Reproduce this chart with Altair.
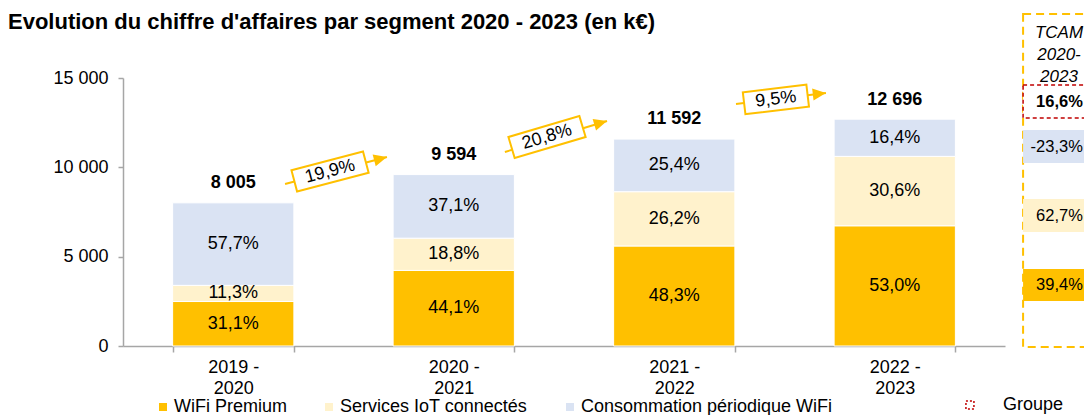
import altair as alt
import pandas as pd

# ---------------- values ----------------
periods = ["2019 - 2020", "2020 - 2021", "2021 - 2022", "2022 - 2023"]
totals = [8005, 9594, 11592, 12696]
segments = ["WiFi Premium", "Services IoT connectés", "Consommation périodique WiFi"]
share_wifi = [31.1, 44.1, 48.3, 53.0]
share_iot = [11.3, 18.8, 26.2, 30.6]
share_conso = [57.7, 37.1, 25.4, 16.4]
growth_labels = ["19,9%", "20,8%", "9,5%"]
tcam_labels = ["39,4%", "62,7%", "-23,3%"]          # WiFi, IoT, Conso
tcam_group = "16,6%"
tcam_header = ["TCAM", "2020-", "2023"]
title_text = "Evolution du chiffre d'affaires par segment 2020 - 2023 (en k€)"
y_ticks = [0, 5000, 10000, 15000]

# ---------------- styles / layout ----------------
FONT = "Liberation Sans"
GOLD = "#FFC000"
RED = "#C00000"
colors = ["#FFC000", "#FFF2CC", "#DAE3F3"]
GREY = "#A6A6A6"
W, H = 882, 268
FS = 18
FS_PANEL = 16.5

# annotation positions in chart units (x: 0..4 across the bands, y: k€)
arrow_x0 = [0.735, 1.732, 2.780]
arrow_y0 = [9067, 10858, 13545]
arrow_x1 = [1.197, 2.195, 3.188]
arrow_y1 = [10578, 12593, 14160]
box_x = [0.939, 1.923, 2.961]
box_y = [9767, 11698, 13800]
arrow_angle = [14.8, 16.5, 6.8]
box_w = [74, 74, 64]
box_h = 22

panel_x0, panel_x1 = 4.082, 4.8
panel_y0, panel_y1 = 18582, -56
panel_head_x = 4.245
panel_val_x = 4.353
header_y = [17519, 16287, 15056]
group_box_y = (14608, 12761)
group_text_y = 13657
seg_box_y0 = [4310, 8228, 12090]
seg_box_y1 = [2519, 6381, 10243]
seg_text_y = [3414, 7276, 11138]
groupe_sym = (3.841, -3300)
groupe_text_x = 3.991

# ---------------- tables ----------------
rows = []
for i, p in enumerate(periods):
    for j, (seg, sh) in enumerate(zip(segments, [share_wifi[i], share_iot[i], share_conso[i]])):
        rows.append({
            "period": p, "segment": seg, "ord": j,
            "value": totals[i] * sh / 100.0,
            "label": f"{sh:.1f}".replace(".", ",") + "%",
        })
df = pd.DataFrame(rows)
df_tot = pd.DataFrame({
    "period": periods, "total": totals,
    "label": [f"{t:,}".replace(",", " ") for t in totals],
})

df_arrow = pd.DataFrame({
    "x0": arrow_x0, "y0": arrow_y0, "x1": arrow_x1, "y1": arrow_y1,
    "bx": box_x, "by": box_y, "label": growth_labels,
    "ang": [360 - a for a in arrow_angle],
    "path": [f"M-1,{-box_h / w:.4f}L1,{-box_h / w:.4f}L1,{box_h / w:.4f}L-1,{box_h / w:.4f}Z" for w in box_w],
    "sz": [w * w for w in box_w],
})

xband = alt.Scale(domain=periods, paddingInner=0.45, paddingOuter=0.225)
yscale = alt.Scale(domain=[0, 15000], nice=False, zero=False)
pscale = alt.Scale(domain=[0, 4], nice=False, zero=False)
cscale = alt.Scale(domain=segments, range=colors)

x_axis = alt.Axis(
    title=None, labelAngle=0, labelFont=FONT, labelFontSize=FS, labelColor="#000",
    labelExpr="[substring(datum.label, 0, 6), substring(datum.label, 7)]",
    labelLineHeight=21, labelPadding=6, tickBand="extent", tickSize=6,
    domainColor=GREY, tickColor=GREY, domainWidth=1.5, tickWidth=1.5,
)
y_axis = alt.Axis(
    title=None, values=y_ticks, grid=False, labelFont=FONT, labelFontSize=FS,
    labelColor="#000", labelPadding=10, tickSize=5,
    labelExpr="datum.value == 0 ? '0' : format(datum.value / 1000, 'd') + ' 000'",
    domainColor=GREY, tickColor=GREY, domainWidth=1.5, tickWidth=1.5,
)


def Xb(field):
    return alt.X(field, sort=periods, scale=xband, axis=x_axis)


def Xp(field):
    return alt.X(field, scale=pscale, axis=None)


def Yv(field, **kw):
    return alt.Y(field, scale=yscale, axis=y_axis, **kw)


bars = alt.Chart(df).mark_bar(stroke="white", strokeWidth=1).encode(
    x=Xb("period:N"),
    y=Yv("value:Q", stack="zero"),
    color=alt.Color("segment:N", scale=cscale, legend=alt.Legend(
        title=None, orient="none", legendX=31, legendY=320, direction="horizontal",
        symbolType="square", symbolSize=64, symbolStrokeWidth=0, labelFont=FONT,
        labelFontSize=FS, labelColor="#000", labelOffset=2, columnPadding=33,
        labelLimit=400, padding=0,
    )),
    order=alt.Order("ord:Q", sort="ascending"),
)

seg_text = alt.Chart(df).transform_stack(
    stack="value", groupby=["period"], sort=[alt.SortField("ord", order="ascending")],
    as_=["v0", "v1"],
).transform_calculate(mid="(datum.v0 + datum.v1) / 2").mark_text(
    font=FONT, fontSize=FS, color="#000", baseline="middle",
).encode(x=Xb("period:N"), y=Yv("mid:Q"), text="label:N")

tot_text = alt.Chart(df_tot).mark_text(
    font=FONT, fontSize=FS, fontWeight="bold", color="#000", baseline="middle", dy=-19.5,
).encode(x=Xb("period:N"), y=Yv("total:Q"), text="label:N")

band_layer = alt.layer(bars, seg_text, tot_text)

# growth arrows
arrow_line = alt.Chart(df_arrow).mark_rule(color=GOLD, strokeWidth=2).encode(
    x=Xp("x0:Q"), x2="x1:Q", y=Yv("y0:Q"), y2="y1:Q",
)
arrow_head = alt.Chart(df_arrow).mark_point(
    shape="M0,0L-2.2,-1L-2.2,1Z", size=144, filled=True, color=GOLD, opacity=1,
).encode(x=Xp("x1:Q"), y=Yv("y1:Q"), angle=alt.Angle("ang:Q", scale=None))
arrow_box = alt.Chart(df_arrow).mark_point(
    filled=True, fill="white", stroke=GOLD, strokeWidth=2, opacity=1, fillOpacity=1, strokeOpacity=1,
).encode(
    x=Xp("bx:Q"), y=Yv("by:Q"),
    shape=alt.Shape("path:N", scale=None),
    size=alt.Size("sz:Q", scale=None),
    angle=alt.Angle("ang:Q", scale=None),
)
arrow_text = alt.Chart(df_arrow).mark_text(
    font=FONT, fontSize=FS, color="#000", baseline="middle", align="center",
).encode(x=Xp("bx:Q"), y=Yv("by:Q"), angle=alt.Angle("ang:Q", scale=None), text="label:N")

# TCAM panel
df_panel = pd.DataFrame({"x0": [panel_x0], "x1": [panel_x1], "y0": [panel_y0], "y1": [panel_y1]})
panel = alt.Chart(df_panel).mark_rect(
    fillOpacity=0, stroke=GOLD, strokeWidth=2, strokeDash=[8, 5],
).encode(x=Xp("x0:Q"), x2="x1:Q", y=Yv("y0:Q"), y2="y1:Q")
df_head = pd.DataFrame({"x": [panel_head_x] * 3, "y": header_y, "t": tcam_header})
head = alt.Chart(df_head).mark_text(
    font=FONT, fontSize=17, fontStyle="italic", color="#000", baseline="middle",
).encode(x=Xp("x:Q"), y=Yv("y:Q"), text="t:N")
df_gbox = pd.DataFrame({"x0": [panel_x0], "x1": [panel_x1], "y0": [group_box_y[0]], "y1": [group_box_y[1]],
                        "tx": [panel_val_x], "ty": [group_text_y], "t": [tcam_group]})
gbox = alt.Chart(df_gbox).mark_rect(
    fill="white", stroke=RED, strokeWidth=1.5, strokeDash=[4, 3],
).encode(x=Xp("x0:Q"), x2="x1:Q", y=Yv("y0:Q"), y2="y1:Q")
gtext = alt.Chart(df_gbox).mark_text(
    font=FONT, fontSize=FS_PANEL, fontWeight="bold", color="#000", baseline="middle", align="right",
).encode(x=Xp("tx:Q"), y=Yv("ty:Q"), text="t:N")
df_sbox = pd.DataFrame({"segment": segments, "x0": [panel_x0] * 3, "x1": [panel_x1] * 3,
                        "y0": seg_box_y0, "y1": seg_box_y1, "tx": [panel_val_x] * 3,
                        "ty": seg_text_y, "t": tcam_labels})
sbox = alt.Chart(df_sbox).mark_rect().encode(
    x=Xp("x0:Q"), x2="x1:Q", y=Yv("y0:Q"), y2="y1:Q",
    color=alt.Color("segment:N", scale=cscale, legend=None),
)
stext = alt.Chart(df_sbox).mark_text(
    font=FONT, fontSize=FS_PANEL, color="#000", baseline="middle", align="right",
).encode(x=Xp("tx:Q"), y=Yv("ty:Q"), text="t:N")

# "Groupe" legend entry
df_grp = pd.DataFrame({"x": [groupe_sym[0]], "y": [groupe_sym[1]], "tx": [groupe_text_x], "t": ["Groupe"]})
grp_sym = alt.Chart(df_grp).mark_point(
    shape="square", size=64, filled=False, stroke=RED, strokeWidth=1.5, strokeDash=[2, 2], opacity=1,
).encode(x=Xp("x:Q"), y=Yv("y:Q"))
grp_text = alt.Chart(df_grp).mark_text(
    font=FONT, fontSize=FS, color="#000", baseline="middle", align="left",
).encode(x=Xp("tx:Q"), y=Yv("y:Q"), text="t:N")

# title
df_title = pd.DataFrame({"t": [title_text]})
title = alt.Chart(df_title).mark_text(
    font=FONT, fontSize=22, fontWeight="bold", color="#000", align="left", baseline="middle",
).encode(x=alt.value(-115), y=alt.value(-56), text="t:N")

chart = alt.layer(
    band_layer, arrow_line, arrow_box, arrow_text, arrow_head,
    panel, gbox, gtext, sbox, stext, head, grp_sym, grp_text, title,
).resolve_scale(x="independent").properties(
    width=W, height=H,
    padding={"left": 115, "top": 70, "right": 79, "bottom": 69},
    autosize=alt.AutoSizeParams(type="none"),
    background="white",
).configure_view(stroke=None)

chart.save("out.html", embed_options={"renderer": "svg", "actions": False})
